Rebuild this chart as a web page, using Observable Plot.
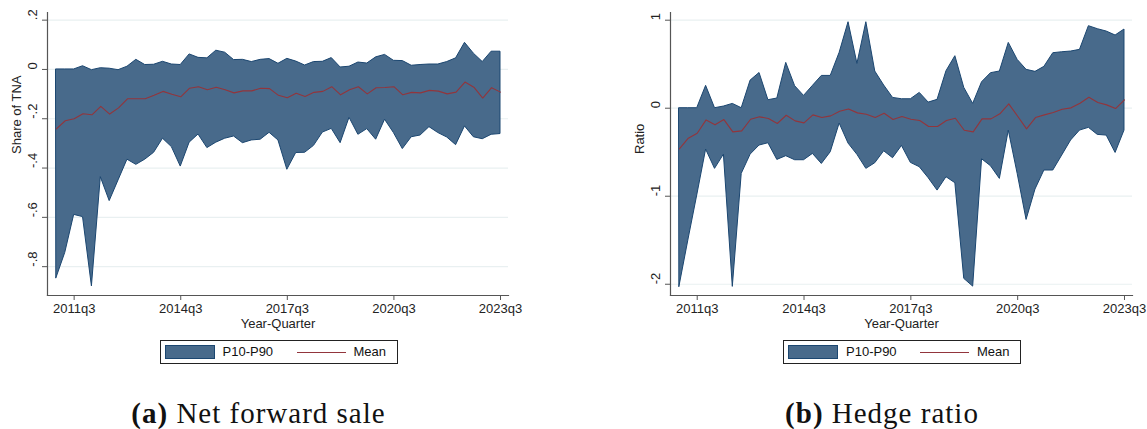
<!DOCTYPE html>
<html>
<head>
<meta charset="utf-8">
<script src="https://cdn.jsdelivr.net/npm/d3@7"></script>
<script src="https://cdn.jsdelivr.net/npm/@observablehq/plot@0.6"></script>
<style>
  html, body { margin: 0; padding: 0; background: #fff; }
  #root { position: relative; width: 1147px; height: 429px; overflow: hidden;
          font-family: "Liberation Sans", Arial, sans-serif; color: #111; }
  .panel { position: absolute; top: 0; }
  .legend { position: absolute; top: 340px; width: 238px; height: 24px; box-sizing: border-box;
            border: 1px solid #222; font-size: 13px; background: #fff; }
  .legend .sw { position: absolute; left: 4px; top: 4px; width: 50px; height: 14px; box-sizing: border-box;
                background: #486a8b; border: 1px solid #1b4670; }
  .legend .t { position: absolute; top: 0; line-height: 22px; white-space: nowrap; }
  .legend .ln { position: absolute; top: 11px; width: 49px; height: 0; border-top: 1px solid #92353c; }
  .caption { position: absolute; top: 399px; width: 320px; text-align: center; white-space: nowrap;
             font-family: "Liberation Serif", "Times New Roman", serif; font-size: 29px; line-height: 29px;
             letter-spacing: 1px; color: #111; }
</style>
</head>
<body>
<div id="root"></div>
<script>
// ---------- data ----------
const quarters = ["2011q1","2011q2","2011q3","2011q4","2012q1","2012q2","2012q3","2012q4",
  "2013q1","2013q2","2013q3","2013q4","2014q1","2014q2","2014q3","2014q4",
  "2015q1","2015q2","2015q3","2015q4","2016q1","2016q2","2016q3","2016q4",
  "2017q1","2017q2","2017q3","2017q4","2018q1","2018q2","2018q3","2018q4",
  "2019q1","2019q2","2019q3","2019q4","2020q1","2020q2","2020q3","2020q4",
  "2021q1","2021q2","2021q3","2021q4","2022q1","2022q2","2022q3","2022q4",
  "2023q1","2023q2","2023q3"];

// (a) Net forward sale, share of TNA
const netP90 = [0, 0, 0, 0.013, -0.003, 0.005, 0.003, -0.003, 0.011, 0.039,
  0.018, 0.019, 0.031, 0.020, 0.018, 0.061, 0.047, 0.045, 0.076, 0.068,
  0.038, 0.039, 0.030, 0.039, 0.042, 0.023, 0.043, 0.032, 0.016, 0.030,
  0.031, 0.046, 0.008, 0.011, 0.028, 0.024, 0.049, 0.059, 0.035, 0.034,
  0.015, 0.018, 0.020, 0.020, 0.030, 0.045, 0.108, 0.064, 0.030, 0.072, 0.072];
const netMean = [-0.241, -0.208, -0.200, -0.180, -0.184, -0.150, -0.181, -0.156, -0.119, -0.119,
  -0.119, -0.105, -0.089, -0.101, -0.111, -0.076, -0.070, -0.082, -0.072, -0.082,
  -0.095, -0.087, -0.087, -0.076, -0.078, -0.105, -0.115, -0.097, -0.110, -0.093,
  -0.089, -0.070, -0.103, -0.082, -0.070, -0.099, -0.074, -0.073, -0.070, -0.103,
  -0.093, -0.095, -0.085, -0.088, -0.099, -0.092, -0.051, -0.072, -0.116, -0.074, -0.092];
const netP10 = [-0.847, -0.744, -0.590, -0.599, -0.880, -0.437, -0.534, -0.450, -0.366, -0.387,
  -0.366, -0.338, -0.281, -0.315, -0.394, -0.297, -0.264, -0.319, -0.297, -0.281,
  -0.272, -0.299, -0.288, -0.285, -0.257, -0.288, -0.407, -0.339, -0.338, -0.310,
  -0.256, -0.241, -0.299, -0.196, -0.265, -0.242, -0.285, -0.204, -0.258, -0.323,
  -0.275, -0.268, -0.234, -0.258, -0.276, -0.307, -0.231, -0.275, -0.283, -0.265, -0.262];

// (b) Hedge ratio
const hedgeP90 = [0, 0, 0, 0.254, 0, 0.019, 0.049, 0, 0.314, 0.400,
  0.091, 0.110, 0.515, 0.250, 0.140, 0.254, 0.367, 0.367, 0.629, 0.977,
  0.504, 0.977, 0.417, 0.258, 0.117, 0.102, 0.102, 0.174, 0.064, 0.095,
  0.420, 0.591, 0.231, 0.049, 0.295, 0.398, 0.417, 0.742, 0.549, 0.436,
  0.413, 0.470, 0.625, 0.636, 0.644, 0.663, 0.932, 0.898, 0.871, 0.826, 0.894];
const hedgeMean = [-0.462, -0.341, -0.284, -0.133, -0.189, -0.129, -0.269, -0.258, -0.125, -0.098,
  -0.117, -0.174, -0.080, -0.144, -0.167, -0.076, -0.106, -0.087, -0.034, -0.008,
  -0.053, -0.068, -0.106, -0.057, -0.129, -0.095, -0.125, -0.140, -0.208, -0.208,
  -0.140, -0.114, -0.250, -0.269, -0.121, -0.121, -0.064, 0.049, -0.091, -0.235,
  -0.106, -0.076, -0.049, -0.011, 0.004, 0.057, 0.125, 0.064, 0.038, -0.004, 0.095];
const hedgeP10 = [-2.030, -1.504, -0.992, -0.470, -0.689, -0.527, -2.030, -0.746, -0.527, -0.424,
  -0.398, -0.587, -0.545, -0.591, -0.591, -0.519, -0.633, -0.500, -0.174, -0.402,
  -0.530, -0.689, -0.625, -0.489, -0.568, -0.428, -0.621, -0.670, -0.795, -0.936,
  -0.784, -0.852, -1.939, -2.027, -0.580, -0.659, -0.803, -0.254, -0.746, -1.269,
  -0.924, -0.708, -0.708, -0.538, -0.367, -0.254, -0.223, -0.303, -0.311, -0.508, -0.254];

const xTickLabels = ["2011q3", "2014q3", "2017q3", "2020q3", "2023q3"];
const netYTicks = [0.2, 0, -0.2, -0.4, -0.6, -0.8];
const netYTickLabels = [".2", "0", "-.2", "-.4", "-.6", "-.8"];
const hedgeYTicks = [1, 0, -1, -2];
const hedgeYTickLabels = ["1", "0", "-1", "-2"];
const legendLabels = ["P10-P90", "Mean"];

// ---------- styling ----------
const BAND_FILL = "#486a8b", BAND_STROKE = "#1b4670", MEAN_COLOR = "#92353c";
const GRID = "#e9f0f1", AXIS = "#555";

function makePanel({p10, mean, p90, yTicks, yTickLabels, yDomain, yLabel, width, marginLeft, marginRight}) {
  const data = quarters.map((q, i) => ({i, q, p10: p10[i], mean: mean[i], p90: p90[i]}));
  const xt = xTickLabels.map(l => ({i: quarters.indexOf(l), label: l}));
  const yt = yTicks.map((v, k) => ({v, label: yTickLabels[k]}));
  return Plot.plot({
    width, height: 335,
    marginTop: 12, marginBottom: 40, marginLeft, marginRight,
    x: {type: "linear", domain: [-1, 50.9], axis: null},
    y: {domain: yDomain, axis: null},
    style: {fontFamily: '"Liberation Sans", Arial, sans-serif', fontSize: "13px", background: "transparent", overflow: "visible"},
    marks: [
      Plot.ruleY(yTicks, {stroke: GRID, strokeWidth: 1.2}),
      Plot.areaY(data, {x: "i", y1: "p10", y2: "p90", fill: BAND_FILL, stroke: BAND_STROKE, strokeWidth: 1, strokeLinejoin: "miter"}),
      Plot.lineY(data, {x: "i", y: "mean", stroke: MEAN_COLOR, strokeWidth: 1.1}),
      Plot.frame({anchor: "left", stroke: AXIS, strokeWidth: 1.2}),
      Plot.frame({anchor: "bottom", stroke: AXIS, strokeWidth: 1.2}),
      Plot.axisY(yTicks, {tickSize: 5, tickFormat: () => "", label: null, stroke: AXIS}),
      Plot.axisX(xt.map(d => d.i), {tickSize: 5, tickFormat: () => "", label: null, stroke: AXIS}),
      Plot.text(yt, {y: "v", text: "label", frameAnchor: "left", dx: -15, rotate: -90, fill: "#222", fontSize: 13}),
      Plot.text([yLabel], {text: d => d, frameAnchor: "left", dx: -31, rotate: -90, fill: "#222", fontSize: 13}),
      Plot.text(xt, {x: "i", text: "label", frameAnchor: "bottom", dy: 17, fill: "#222", fontSize: 13}),
      Plot.text(["Year-Quarter"], {text: d => d, frameAnchor: "bottom", dy: 32, fill: "#222", fontSize: 13})
    ]
  });
}

const root = document.getElementById("root");

function addPanel(left, width, opts, plotCenter, captionBold, captionRest) {
  const div = document.createElement("div");
  div.className = "panel";
  div.style.left = left + "px";
  div.appendChild(makePanel({...opts, width}));
  root.appendChild(div);

  const lg = document.createElement("div");
  lg.className = "legend";
  lg.style.left = (plotCenter - 118) + "px";
  lg.innerHTML = `<div class="sw"></div><span class="t" style="left:62px">${legendLabels[0]}</span>` +
    `<div class="ln" style="left:136px"></div><span class="t" style="left:193px">${legendLabels[1]}</span>`;
  root.appendChild(lg);

  const cap = document.createElement("div");
  cap.className = "caption";
  cap.style.left = (plotCenter - 19 - 160) + "px";
  cap.innerHTML = `<b>${captionBold}</b> ${captionRest}`;
  root.appendChild(cap);
}

addPanel(0, 560, {p10: netP10, mean: netMean, p90: netP90, yTicks: netYTicks, yTickLabels: netYTickLabels,
  yDomain: [-0.917, 0.231], yLabel: "Share of TNA", marginLeft: 47, marginRight: 52}, 277.5, "(a)", "Net forward sale");
addPanel(570, 577, {p10: hedgeP10, mean: hedgeMean, p90: hedgeP90, yTicks: hedgeYTicks, yTickLabels: hedgeYTickLabels,
  yDomain: [-2.128, 1.0875], yLabel: "Ratio", marginLeft: 100, marginRight: 15}, 901, "(b)", "Hedge ratio");
</script>
</body>
</html>
